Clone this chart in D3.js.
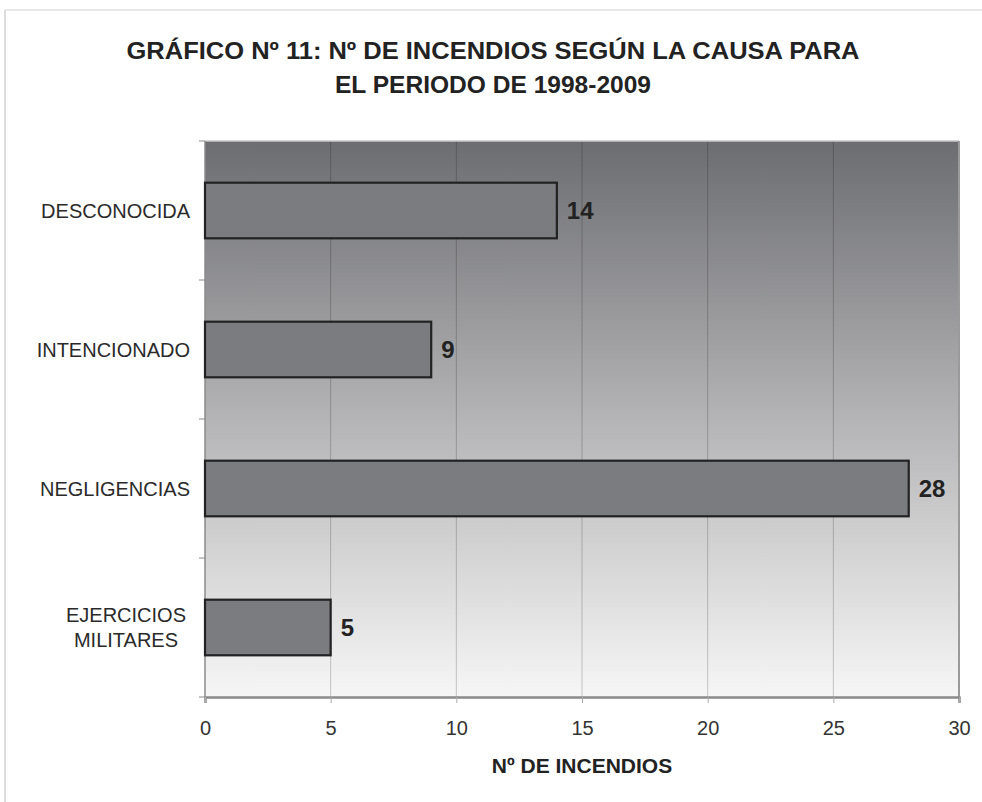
<!DOCTYPE html>
<html><head><meta charset="utf-8">
<script src="https://cdn.jsdelivr.net/npm/d3@7"></script>
<style>body{margin:0;background:#fff}svg{display:block}</style>
</head><body>
<script>
const categories = ["DESCONOCIDA", "INTENCIONADO", "NEGLIGENCIAS", "EJERCICIOS MILITARES"];
const values = [14, 9, 28, 5];
const xTicks = [0, 5, 10, 15, 20, 25, 30];
const titleLines = ["GRÁFICO Nº 11: Nº DE INCENDIOS SEGÚN LA CAUSA PARA", "EL PERIODO DE 1998-2009"];
const xTitle = "Nº DE INCENDIOS";
const labelLines = {"EJERCICIOS MILITARES": ["EJERCICIOS", "MILITARES"]};

const W = 982, H = 802;
const m = {left: 205, right: 982 - 959, top: 141, bottom: 802 - 697};
const FONT = "Liberation Sans, Arial, sans-serif";
const svg = d3.select("body").append("svg").attr("width", W).attr("height", H);

// outer frame lines
svg.append("line").attr("x1", 5).attr("x2", 5).attr("y1", 10).attr("y2", 802).attr("stroke", "#d0d0d0").attr("stroke-width", 1.5);
svg.append("line").attr("x1", 5).attr("x2", 982).attr("y1", 10).attr("y2", 10).attr("stroke", "#e0e0e0").attr("stroke-width", 1.5);

const x = d3.scaleLinear().domain([0, 30]).range([m.left, W - m.right]);
const y = d3.scaleBand().domain(categories).range([m.top, H - m.bottom]).paddingInner(0.6).paddingOuter(0.3);

const defs = svg.append("defs");
const g = defs.append("linearGradient").attr("id", "bg").attr("x1", 0).attr("x2", 0).attr("y1", 0).attr("y2", 1);
g.append("stop").attr("offset", "0%").attr("stop-color", "#6c6d71");
g.append("stop").attr("offset", "50%").attr("stop-color", "#b4b4b6");
g.append("stop").attr("offset", "100%").attr("stop-color", "#f6f6f6");

svg.append("rect").attr("x", x(0)).attr("y", m.top).attr("width", x(30) - x(0)).attr("height", H - m.bottom - m.top).attr("fill", "url(#bg)");

// grid lines
svg.append("g").selectAll("line").data(xTicks.slice(1, -1)).join("line")
  .attr("x1", d => x(d)).attr("x2", d => x(d)).attr("y1", m.top).attr("y2", H - m.bottom)
  .attr("stroke", "#000").attr("stroke-opacity", 0.2).attr("stroke-width", 1);

// border: top light, right gray
svg.append("line").attr("x1", x(0)).attr("x2", x(30)).attr("y1", m.top).attr("y2", m.top).attr("stroke", "#c8c8c8").attr("stroke-width", 1.5);
svg.append("line").attr("x1", x(30)).attr("x2", x(30)).attr("y1", m.top).attr("y2", H - m.bottom).attr("stroke", "#9a9a9a").attr("stroke-width", 2);

// y axis
const yAxisG = svg.append("g").attr("transform", `translate(${x(0)},0)`);
yAxisG.append("line").attr("x1", 0).attr("x2", 0).attr("y1", m.top).attr("y2", H - m.bottom).attr("stroke", "#8a8a8a").attr("stroke-width", 1.5);
const yTickPos = d3.range(categories.length + 1).map(i => m.top + i * y.step());
yAxisG.selectAll(".yt").data(yTickPos).join("line").attr("class", "yt")
  .attr("x1", -6).attr("x2", 0).attr("y1", d => d).attr("y2", d => d).attr("stroke", "#8a8a8a").attr("stroke-width", 1);

// x axis
const xAxis = d3.axisBottom(x).tickValues(xTicks).tickSize(6).tickPadding(18);
const xg = svg.append("g").attr("transform", `translate(0,${H - m.bottom})`).call(xAxis);
xg.select(".domain").attr("stroke", "#8a8a8a").attr("stroke-width", 2.5);
xg.selectAll(".tick line").attr("stroke", "#aaa");
xg.selectAll(".tick text").attr("font-family", FONT).attr("font-size", 20).attr("fill", "#333");

// bars
svg.append("g").selectAll("rect").data(categories).join("rect")
  .attr("x", x(0)).attr("y", d => y(d)).attr("width", (d, i) => x(values[i]) - x(0)).attr("height", y.bandwidth())
  .attr("fill", "#7b7c80").attr("stroke", "#222").attr("stroke-width", 2.2);

// value labels
svg.append("g").selectAll("text").data(categories).join("text")
  .attr("x", (d, i) => x(values[i]) + 10).attr("y", d => y(d) + y.bandwidth() / 2)
  .attr("dy", "0.36em").attr("font-family", FONT).attr("font-weight", "bold")
  .attr("font-size", 24).attr("fill", "#222").text((d, i) => values[i]);

// category labels
const cl = svg.append("g");
categories.forEach(c => {
  const lines = labelLines[c] || [c];
  const cy = y(c) + y.bandwidth() / 2;
  const t = cl.append("text").attr("font-family", FONT).attr("font-size", 20).attr("fill", "#2a2a2a");
  if (lines.length === 1) {
    t.attr("x", 190).attr("y", cy).attr("dy", "0.36em").attr("text-anchor", "end").text(lines[0]);
  } else {
    t.attr("text-anchor", "middle");
    lines.forEach((l, i) => t.append("tspan").attr("x", 126).attr("y", cy + (i - (lines.length - 1) / 2) * 25).attr("dy", "0.36em").text(l));
  }
});

// title (condensed look via textLength)
const titleW = [733, 316];
titleLines.forEach((l, i) => svg.append("text").attr("x", 493).attr("y", 59 + i * 34).attr("text-anchor", "middle")
  .attr("font-family", FONT).attr("font-weight", "bold").attr("font-size", 24).attr("fill", "#222")
  .attr("textLength", titleW[i]).attr("lengthAdjust", "spacingAndGlyphs").text(l));

// x title
svg.append("text").attr("x", 582).attr("y", 773).attr("text-anchor", "middle")
  .attr("font-family", FONT).attr("font-weight", "bold").attr("font-size", 21).attr("fill", "#222").text(xTitle);
</script>
</body></html>
